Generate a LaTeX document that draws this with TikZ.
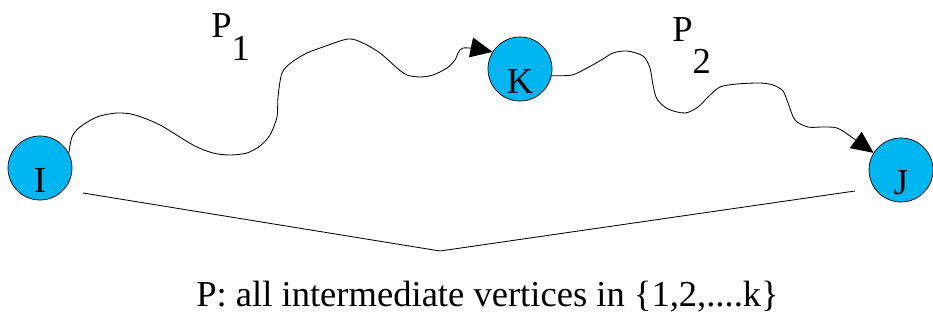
\documentclass[tikz,border=0pt]{standalone}
\usepackage{fontspec}
\setmainfont{Liberation Serif}
\usepackage{tikz}
\usetikzlibrary{arrows.meta}
\definecolor{vertexblue}{RGB}{0,182,240}
\tikzset{
  vertex/.style={circle, draw=black, fill=vertexblue, line width=0.5pt,
    minimum size=1.6cm, inner sep=0pt, text height=1.2cm, text depth=0pt,
    font=\fontsize{26}{30}\selectfont},
  pathlabel/.style={inner sep=0pt, font=\fontsize{26}{30}\selectfont},
  wiggle/.style={line width=0.6pt, -{Triangle[length=0.55cm, width=0.5cm]}},
  bracketline/.style={line width=0.6pt}
}

\begin{document}
\begin{tikzpicture}[x=0.025cm, y=-0.025cm]
  \useasboundingbox (0,0) rectangle (933,321);

  \node[vertex] (I) at (40,168) {I};
  \node[vertex] (K) at (520,69) {K};
  \node[vertex] (J) at (901,170) {J};

  \node[pathlabel, anchor=base west] (p1) at (211,38) {P\raisebox{-0.55cm}{1}};
  \node[pathlabel, anchor=base west] (p2) at (672,42) {P\raisebox{-0.78cm}{2}};

  \draw[wiggle] plot[smooth, tension=0.5] coordinates {(I.27) (72,137) (80,127) (97,117)
    (117,113) (135,115) (160,125) (193,145) (213,153) (230,155) (247,153) (260,146)
    (270,135) (277,117) (278,97) (282,73) (292,62) (307,53) (323,47) (348,39) (363,43)
    (380,53) (397,68) (407,75) (420,77) (433,75) (447,68) (455,60) (463,48) (K.148)};
  \draw[wiggle] plot[smooth, tension=0.5] coordinates {(K.-12) (572,75) (587,68) (603,59)
    (613,53) (627,51) (643,56) (650,68) (653,85) (657,99) (668,109) (685,113) (698,107)
    (708,97) (720,87) (737,84) (760,83) (773,85) (783,91) (788,103) (795,120) (808,127)
    (823,127) (837,128) (850,136) (J.148)};

  \coordinate (vl) at (83,193);
  \coordinate (apex) at (440,251);
  \coordinate (vr) at (855,191);
  \draw[bracketline] (vl) -- (apex) -- (vr);

  \node[pathlabel, anchor=base west] (cap) at (196,306) {P: all intermediate vertices in \{1,2,....k\}};
\end{tikzpicture}
\end{document}
